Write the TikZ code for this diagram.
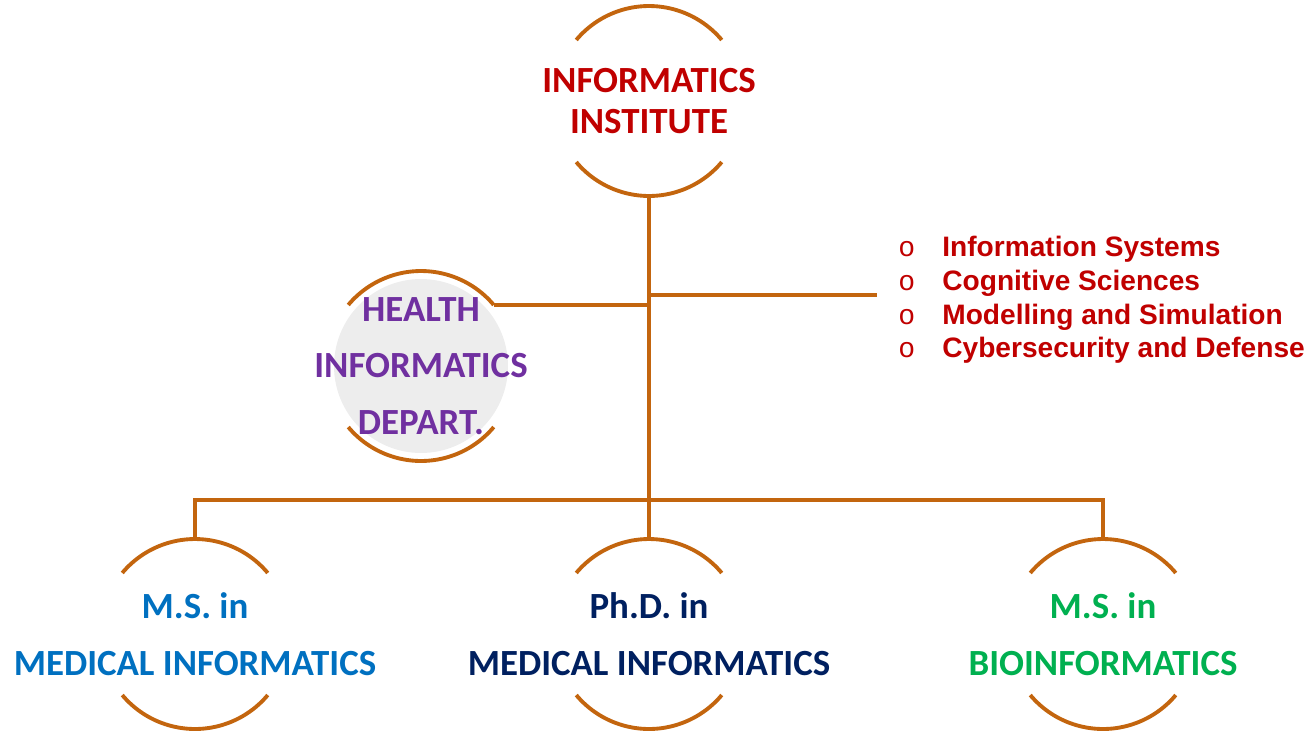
\documentclass[tikz,border=0pt]{standalone}
\usepackage{fontspec}
\setmainfont{Carlito}
\newfontfamily\arialfont{Liberation Sans}
\newfontfamily\courierfont{Liberation Mono}

\definecolor{linkorange}{HTML}{C3650E}
\definecolor{instred}{HTML}{C00000}
\definecolor{deptpurple}{HTML}{7030A0}
\definecolor{deptgrey}{HTML}{EDEDED}
\definecolor{msblue}{HTML}{0070C0}
\definecolor{phdnavy}{HTML}{002060}
\definecolor{biogreen}{HTML}{00B050}

% the two orange caps round a unit
\newcommand{\caparcs}[1]{%
  \draw[link] (#1.140) arc[start angle=140,end angle=40,radius=1.9cm];
  \draw[link] (#1.220) arc[start angle=220,end angle=320,radius=1.9cm];}
\newcommand{\bul}{\makebox[0.88cm][l]{\courierfont\mdseries o}}

\begin{document}
\begin{tikzpicture}[x=0.02cm,y=-0.02cm,
    link/.style={draw=linkorange,line width=2.2pt},
    unit/.style={circle,minimum size=3.8cm,inner sep=0pt,outer sep=0pt},
    caption/.style={font=\fontsize{21}{32.3}\selectfont\bfseries,align=center}]
    \useasboundingbox (0,0) rectangle (1310,731);
    \fill[deptgrey] (421,366) circle (1.74cm);
    \begin{scope}[every node/.style=unit]
        \node (top) at (649,101) {};
        \node (dept) at (421,366) {};
        \node (msmed) at (195,634) {};
        \node (phd) at (649,634) {};
        \node (msbio) at (1103,634) {};
    \end{scope}
    \caparcs{top}
    \caparcs{dept}
    \caparcs{msmed}
    \caparcs{phd}
    \caparcs{msbio}
    \node[caption,text=instred,font=\fontsize{21}{23.2}\selectfont\bfseries] (toptext) at (top) {INFORMATICS\\INSTITUTE};
    \node[caption,text=deptpurple] (depttext) at (dept) {HEALTH\\INFORMATICS\\DEPART.};
    \node[caption,text=msblue] (msmedtext) at (msmed) {M.S. in\\MEDICAL INFORMATICS};
    \node[caption,text=phdnavy] (phdtext) at (phd) {Ph.D. in\\MEDICAL INFORMATICS};
    \node[caption,text=biogreen] (msbiotext) at (msbio) {M.S. in\\BIOINFORMATICS};
    \node[anchor=west,inner sep=0pt,align=left,text=instred,
        font=\arialfont\fontsize{16}{19.1}\selectfont\bfseries] (tracks) at (898,300)
        {\bul Information Systems\\\bul Cognitive Sciences\\\bul Modelling and Simulation\\\bul Cybersecurity and Defense};
    \coordinate (trackslink) at (877,295);
    \coordinate (bus) at (649,500);
    % connectors
    \draw[link] (top.south) -- (phd.north);
    \draw[link] (dept.40) -- (dept.40 -| top.south);
    \draw[link] (trackslink -| top.south) -- (trackslink);
    \draw[link] (msmed.north) |- (bus) -| (msbio.north);
\end{tikzpicture}
\end{document}
